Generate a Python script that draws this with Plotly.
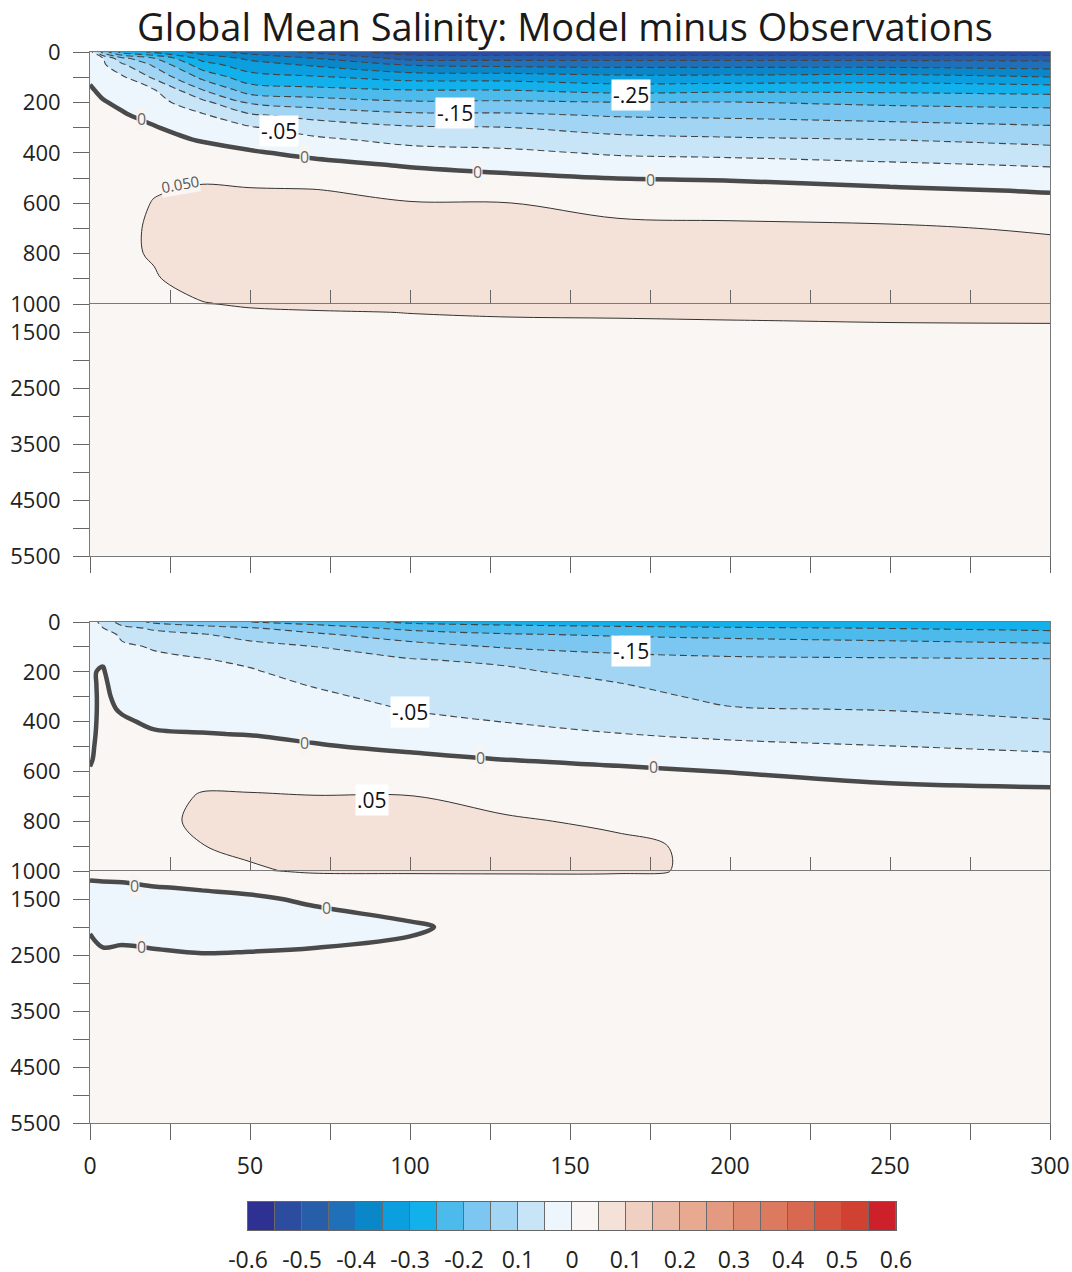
import numpy as np
import plotly.graph_objects as go

# ---------------- data ----------------
years = [0, 4, 10, 20, 35, 50, 70, 100, 130, 165, 200, 250, 300]
depths = [0, 25, 50, 100, 150, 200, 250, 300, 350, 400, 450, 500, 550, 600,
          700, 800, 900, 1000, 1150, 1300, 1500, 2000, 2500, 3000, 4000, 5500]

# salinity difference profiles (one list per year, values at each depth)
top_profiles = [
    [-0.03, -0.024, -0.018, -0.006, 0.004, 0.008, 0.01, 0.012, 0.013, 0.014, 0.015, 0.016, 0.017, 0.018, 0.02, 0.022, 0.023, 0.024, 0.023, 0.022, 0.02, 0.016, 0.014, 0.012, 0.01, 0.008],
    [-0.17, -0.048, -0.042, -0.025, -0.008, 0.003, 0.007, 0.011, 0.015, 0.018, 0.02, 0.022, 0.024, 0.026, 0.029, 0.032, 0.034, 0.034, 0.032, 0.03, 0.027, 0.02, 0.016, 0.014, 0.011, 0.009],
    [-0.27, -0.137, -0.092, -0.042, -0.025, -0.008, 0.004, 0.01, 0.016, 0.021, 0.025, 0.029, 0.032, 0.035, 0.04, 0.044, 0.045, 0.044, 0.04, 0.036, 0.032, 0.023, 0.018, 0.015, 0.012, 0.01],
    [-0.31, -0.198, -0.159, -0.109, -0.048, -0.03, -0.013, 0.003, 0.011, 0.02, 0.029, 0.038, 0.047, 0.052, 0.056, 0.053, 0.047, 0.044, 0.04, 0.036, 0.032, 0.024, 0.019, 0.016, 0.013, 0.01],
    [-0.37, -0.317, -0.279, -0.212, -0.149, -0.085, -0.044, -0.023, -0.002, 0.014, 0.03, 0.045, 0.055, 0.062, 0.072, 0.074, 0.066, 0.048, 0.042, 0.037, 0.033, 0.025, 0.02, 0.017, 0.014, 0.011],
    [-0.42, -0.36, -0.33, -0.28, -0.225, -0.157, -0.094, -0.045, -0.018, 0.005, 0.022, 0.04, 0.053, 0.06, 0.072, 0.078, 0.074, 0.055, 0.044, 0.04, 0.035, 0.026, 0.021, 0.018, 0.014, 0.011],
    [-0.46, -0.399, -0.358, -0.294, -0.237, -0.175, -0.117, -0.073, -0.039, -0.011, 0.013, 0.033, 0.052, 0.058, 0.07, 0.077, 0.075, 0.066, 0.045, 0.041, 0.036, 0.027, 0.021, 0.018, 0.014, 0.011],
    [-0.53, -0.467, -0.405, -0.319, -0.251, -0.194, -0.14, -0.094, -0.063, -0.032, -0.003, 0.018, 0.038, 0.052, 0.064, 0.075, 0.074, 0.068, 0.051, 0.043, 0.036, 0.027, 0.021, 0.018, 0.014, 0.011],
    [-0.54, -0.467, -0.415, -0.321, -0.252, -0.192, -0.142, -0.099, -0.069, -0.04, -0.014, 0.009, 0.03, 0.051, 0.062, 0.072, 0.074, 0.07, 0.056, 0.045, 0.037, 0.028, 0.022, 0.018, 0.014, 0.011],
    [-0.54, -0.467, -0.418, -0.336, -0.268, -0.199, -0.155, -0.118, -0.085, -0.056, -0.028, -0.001, 0.019, 0.038, 0.058, 0.068, 0.072, 0.07, 0.059, 0.046, 0.037, 0.028, 0.022, 0.018, 0.014, 0.011],
    [-0.54, -0.467, -0.418, -0.336, -0.262, -0.198, -0.159, -0.125, -0.092, -0.061, -0.032, -0.004, 0.015, 0.034, 0.057, 0.066, 0.07, 0.069, 0.06, 0.049, 0.038, 0.028, 0.022, 0.018, 0.014, 0.011],
    [-0.54, -0.467, -0.42, -0.331, -0.262, -0.21, -0.169, -0.133, -0.099, -0.071, -0.042, -0.016, 0.007, 0.026, 0.055, 0.065, 0.069, 0.069, 0.062, 0.052, 0.039, 0.029, 0.022, 0.018, 0.014, 0.011],
    [-0.54, -0.467, -0.427, -0.349, -0.269, -0.217, -0.178, -0.144, -0.112, -0.082, -0.053, -0.028, -0.003, 0.014, 0.046, 0.062, 0.068, 0.068, 0.063, 0.053, 0.04, 0.029, 0.022, 0.018, 0.014, 0.011],
]

bottom_profiles = [
    [-0.02, -0.015, -0.01, -0.004, -0.002, -0.003, -0.006, -0.008, -0.008, -0.008, -0.007, -0.005, -0.003, 0.002, 0.006, 0.008, 0.008, 0.006, 0.001, -0.006, -0.01, -0.002, 0.006, 0.006, 0.006, 0.005],
    [-0.07, -0.048, -0.03, -0.012, -0.004, 0.003, 0.006, 0.007, 0.007, 0.008, 0.009, 0.01, 0.011, 0.012, 0.014, 0.015, 0.014, 0.01, 0.002, -0.006, -0.012, -0.008, 0.003, 0.006, 0.006, 0.005],
    [-0.12, -0.085, -0.058, -0.043, -0.033, -0.025, -0.017, -0.01, -0.003, 0.004, 0.01, 0.014, 0.017, 0.02, 0.024, 0.026, 0.025, 0.018, 0.004, -0.008, -0.013, -0.011, 0.006, 0.006, 0.006, 0.005],
    [-0.16, -0.107, -0.086, -0.053, -0.043, -0.035, -0.028, -0.02, -0.012, -0.005, 0.003, 0.01, 0.016, 0.022, 0.03, 0.036, 0.036, 0.028, 0.01, -0.002, -0.012, -0.014, 0.004, 0.005, 0.006, 0.005],
    [-0.18, -0.13, -0.097, -0.071, -0.048, -0.04, -0.032, -0.024, -0.015, -0.007, 0.001, 0.012, 0.022, 0.032, 0.054, 0.06, 0.049, 0.035, 0.015, 0.003, -0.01, -0.015, 0.001, 0.004, 0.006, 0.005],
    [-0.2, -0.145, -0.117, -0.084, -0.06, -0.045, -0.036, -0.027, -0.018, -0.01, -0.001, 0.01, 0.022, 0.034, 0.053, 0.066, 0.06, 0.044, 0.02, 0.006, -0.004, -0.015, 0.002, 0.004, 0.006, 0.005],
    [-0.22, -0.173, -0.142, -0.099, -0.084, -0.069, -0.053, -0.041, -0.03, -0.019, -0.008, 0.003, 0.015, 0.027, 0.051, 0.066, 0.068, 0.057, 0.03, 0.014, 0.004, -0.012, 0.004, 0.004, 0.006, 0.005],
    [-0.26, -0.212, -0.177, -0.129, -0.098, -0.086, -0.075, -0.064, -0.052, -0.038, -0.022, -0.007, 0.008, 0.02, 0.051, 0.066, 0.068, 0.059, 0.03, 0.016, 0.008, -0.002, 0.004, 0.005, 0.006, 0.005],
    [-0.27, -0.229, -0.196, -0.154, -0.109, -0.092, -0.082, -0.071, -0.061, -0.051, -0.035, -0.018, -0.001, 0.013, 0.036, 0.055, 0.062, 0.058, 0.035, 0.018, 0.011, 0.006, 0.005, 0.005, 0.006, 0.005],
    [-0.28, -0.237, -0.206, -0.164, -0.137, -0.116, -0.098, -0.086, -0.074, -0.062, -0.049, -0.03, -0.01, 0.008, 0.026, 0.043, 0.058, 0.057, 0.035, 0.018, 0.011, 0.006, 0.005, 0.005, 0.006, 0.005],
    [-0.285, -0.244, -0.214, -0.17, -0.144, -0.133, -0.121, -0.11, -0.097, -0.078, -0.059, -0.04, -0.02, -0.001, 0.017, 0.03, 0.04, 0.042, 0.03, 0.018, 0.011, 0.006, 0.005, 0.005, 0.006, 0.005],
    [-0.29, -0.251, -0.224, -0.177, -0.146, -0.135, -0.124, -0.113, -0.102, -0.085, -0.067, -0.049, -0.03, -0.011, 0.012, 0.026, 0.034, 0.037, 0.03, 0.018, 0.011, 0.006, 0.005, 0.005, 0.006, 0.005],
    [-0.3, -0.261, -0.233, -0.186, -0.148, -0.138, -0.128, -0.118, -0.109, -0.098, -0.078, -0.059, -0.039, -0.021, 0.012, 0.024, 0.032, 0.035, 0.03, 0.018, 0.011, 0.006, 0.005, 0.005, 0.006, 0.005],
]

bar_centers = [-0.575, -0.525, -0.475, -0.425, -0.375, -0.325, -0.275, -0.225,
               -0.175, -0.125, -0.075, -0.025, 0.025, 0.075, 0.125, 0.175,
               0.225, 0.275, 0.325, 0.375, 0.425, 0.475, 0.525, 0.575]
bar_tickvals = [-0.6, -0.5, -0.4, -0.3, -0.2, -0.1, 0, 0.1, 0.2, 0.3, 0.4, 0.5, 0.6]
bar_ticktext = ['-0.6', '-0.5', '-0.4', '-0.3', '-0.2', '0.1', '0', '0.1', '0.2', '0.3', '0.4', '0.5', '0.6']

upper_depth_ticks = [0, 100, 200, 300, 400, 500, 600, 700, 800, 900, 1000]
upper_depth_text = ['0', '', '200', '', '400', '', '600', '', '800', '', '1000']
lower_depth_ticks = [1500, 2000, 2500, 3000, 3500, 4000, 4500, 5000, 5500]
lower_depth_text = ['1500', '', '2500', '', '3500', '', '4500', '', '5500']
year_ticks = [0, 25, 50, 75, 100, 125, 150, 175, 200, 225, 250, 275, 300]
year_text = ['0', '', '50', '', '100', '', '150', '', '200', '', '250', '', '300']
inner_year_ticks = [25, 50, 75, 100, 125, 150, 175, 200, 225, 250, 275]

band_colors = ['#2e3192', '#2b4c9f', '#285ea9', '#1f70b8', '#0a87c9', '#0b9fdf',
               '#13b1ec', '#4dbaec', '#7cc7f1', '#a2d5f4', '#c8e5f8', '#edf6fd',
               '#faf6f3', '#f4e2d8', '#f0d0c0', '#ebbaa7', '#e7a990', '#e39a80',
               '#df8a6f', '#dc7a5f', '#d8684f', '#d5543f', '#d14131', '#cd202b']

# --------------- figure ----------------
Z1 = np.array(top_profiles).T.tolist()
Z2 = np.array(bottom_profiles).T.tolist()

n = len(band_colors)
bar_scale = []
for i, c in enumerate(band_colors):
    bar_scale.append([i / n, c])
    bar_scale.append([(i + 1) / n, c])

fill_scale = [[0.0, band_colors[0]]]
for i, c in enumerate(band_colors):
    centre = 0.04 * (i + 1)
    fill_scale.append([max(centre - 0.019, 0.0001), c])
    fill_scale.append([min(centre + 0.019, 0.9999), c])
fill_scale.append([1.0, band_colors[-1]])

OFF = 0
W, H = 1072, 1272
def xd(a, b):
    return [(a - OFF) / W, (b - OFF) / W]
def yd(top, bot):
    return [1 - (bot - OFF) / H, 1 - (top - OFF) / H]

fig = go.Figure()

def add_panel(z, xa, ya):
    fig.add_trace(go.Contour(
        x=years, y=depths, z=z, xaxis=xa, yaxis=ya, autocontour=False,
        contours=dict(start=-0.6, end=0.6001, size=0.05, coloring='fill', showlines=False),
        colorscale=fill_scale, showscale=False,
        line=dict(width=0), hoverinfo='skip'))
    fig.add_trace(go.Contour(
        x=years, y=depths, z=z, xaxis=xa, yaxis=ya, autocontour=False,
        contours=dict(start=-0.6, end=-0.05, size=0.05, coloring='none'),
        line=dict(color='#444444', width=1.1, dash='7px,4px', smoothing=1.0),
        showscale=False, hoverinfo='skip'))
    fig.add_trace(go.Contour(
        x=years, y=depths, z=z, xaxis=xa, yaxis=ya, autocontour=False,
        contours=dict(start=0.05, end=0.06, size=0.05, coloring='none'),
        line=dict(color='#333333', width=1, smoothing=1.0),
        showscale=False, hoverinfo='skip'))
    fig.add_trace(go.Contour(
        x=years, y=depths, z=z, xaxis=xa, yaxis=ya, autocontour=False,
        contours=dict(start=0, end=0.01, size=0.05, coloring='none'),
        line=dict(color='#4a4a4a', width=4.5, smoothing=1.0),
        showscale=False, hoverinfo='skip'))

add_panel(Z1, 'x', 'y')
add_panel(Z1, 'x2', 'y2')
add_panel(Z2, 'x3', 'y3')
add_panel(Z2, 'x4', 'y4')

fig.add_trace(go.Heatmap(
    x=bar_centers, y=[0], z=[bar_centers], xaxis='x5', yaxis='y5',
    colorscale=bar_scale, zmin=-0.6, zmax=0.6, showscale=False, xgap=1,
    hoverinfo='skip'))

FONT = 'Open Sans, Noto Sans, sans-serif'
LINE = '#7a7a7a'
base = dict(showline=True, linecolor=LINE, linewidth=1, mirror=True, automargin=False,
            showgrid=False, zeroline=False, tickcolor='#666666', tickwidth=1)

def upper_x(anchor):
    return dict(base, domain=xd(90, 1050), range=[0, 300], anchor=anchor,
                tickmode='array', tickvals=inner_year_ticks, ticks='inside',
                ticklen=14, showticklabels=False)

def lower_x(anchor, labels):
    return dict(base, domain=xd(90, 1050), range=[0, 300], anchor=anchor,
                tickmode='array', tickvals=year_ticks, ticktext=year_text,
                ticks='outside', ticklen=16, showticklabels=labels,
                tickfont=dict(family=FONT, size=23, color='#222222'),
                ticklabelstandoff=6)

def upper_y(anchor, top, bot):
    return dict(base, domain=yd(top, bot), range=[1000, 0], anchor=anchor,
                tickmode='array', tickvals=upper_depth_ticks, ticktext=upper_depth_text,
                ticks='outside', ticklen=16,
                tickfont=dict(family=FONT, size=22, color='#222222'),
                ticklabelstandoff=8)

def lower_y(anchor, top, bot):
    return dict(base, domain=yd(top, bot), range=[5500, 1000], anchor=anchor,
                tickmode='array', tickvals=lower_depth_ticks, ticktext=lower_depth_text,
                ticks='outside', ticklen=16,
                tickfont=dict(family=FONT, size=22, color='#222222'),
                ticklabelstandoff=8)

fig.update_layout(
    width=W, height=H, margin=dict(l=0, r=0, t=0, b=0, autoexpand=False),
    paper_bgcolor='white', plot_bgcolor='#6a6a6a',
    showlegend=False, hovermode=False,
    xaxis=upper_x('y'), yaxis=upper_y('x', 52, 304),
    xaxis2=lower_x('y2', False), yaxis2=lower_y('x2', 304, 556),
    xaxis3=upper_x('y3'), yaxis3=upper_y('x3', 622, 871),
    xaxis4=lower_x('y4', True), yaxis4=lower_y('x4', 871, 1123),
    xaxis5=dict(domain=xd(248, 896), range=[-0.6, 0.6], anchor='y5', automargin=False,
                showline=True, linecolor='#666666', mirror=True, showgrid=False,
                zeroline=False, tickmode='array', tickvals=bar_tickvals,
                ticktext=bar_ticktext, ticks='',
                tickfont=dict(family=FONT, size=23, color='#222222'),
                ticklabelstandoff=9),
    yaxis5=dict(domain=yd(1202, 1230), range=[-0.5, 0.5], anchor='x5', automargin=False,
                showline=True, linecolor='#666666', mirror=True, showgrid=False,
                zeroline=False, showticklabels=False, ticks=''),
)

ann = []
ann.append(dict(text='Global Mean Salinity: Model minus Observations', x=(565 - OFF) / W,
                y=1 - (26 - OFF) / H, xref='paper', yref='paper', showarrow=False,
                xanchor='center', yanchor='middle',
                font=dict(family=FONT, size=38, color='#1a1a1a')))

def box_label(text, x, y, xr, yr):
    ann.append(dict(text=text, x=x, y=y, xref=xr, yref=yr, showarrow=False,
                    bgcolor='white', borderpad=1,
                    font=dict(family=FONT, size=21, color='#111111')))

def zero_label(text, x, y, xr, yr, bg='#f7f4f2'):
    ann.append(dict(text=text, x=x, y=y, xref=xr, yref=yr, showarrow=False,
                    bgcolor=bg, borderpad=0,
                    font=dict(family=FONT, size=16, color='#666666')))

box_label('-.25', 169, 171, 'x', 'y')
box_label('-.15', 114, 242, 'x', 'y')
box_label('-.05', 59, 313, 'x', 'y')
zero_label('0', 16, 266, 'x', 'y')
zero_label('0', 67, 417, 'x', 'y')
zero_label('0', 121, 478, 'x', 'y')
zero_label('0', 175, 506, 'x', 'y')
ann.append(dict(text='0.050', x=28, y=522, xref='x', yref='y', showarrow=False,
                textangle=-10, bgcolor='#faf6f3', borderpad=0,
                font=dict(family=FONT, size=15, color='#555555')))

box_label('-.15', 169, 117, 'x3', 'y3')
box_label('-.05', 100, 361, 'x3', 'y3')
box_label('.05', 88, 715, 'x3', 'y3')
zero_label('0', 67, 484, 'x3', 'y3')
zero_label('0', 122, 546, 'x3', 'y3')
zero_label('0', 176, 584, 'x3', 'y3')
zero_label('0', 14, 1260, 'x4', 'y4')
zero_label('0', 74, 1660, 'x4', 'y4')
zero_label('0', 16, 2360, 'x4', 'y4')

fig.update_layout(annotations=ann)
fig.write_html('out.html',
               config={'displayModeBar': False, 'staticPlot': True},
               post_script="document.body.style.margin='0px';"
                           "document.body.style.overflow='hidden';")
